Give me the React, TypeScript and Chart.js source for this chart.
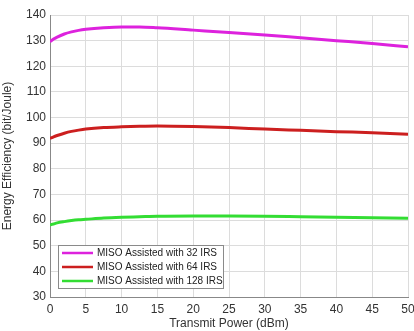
import React, { useEffect, useRef } from "react";
import { Chart, registerables } from "chart.js";

Chart.register(...registerables);

const xValues = [0, 0.5, 1, 2, 3, 4, 5, 7.5, 10, 12.5, 15, 20, 25, 30, 35, 40, 45, 50];
const miso32 = [129.6, 130.6, 131.4, 132.6, 133.4, 134.0, 134.4, 135.0, 135.3, 135.3, 135.0, 134.1, 133.2, 132.2, 131.1, 130.0, 128.9, 127.6];
const miso64 = [91.9, 92.5, 93.0, 93.9, 94.6, 95.1, 95.5, 96.1, 96.4, 96.6, 96.7, 96.5, 96.1, 95.5, 95.0, 94.5, 94.1, 93.5];
const miso128 = [58.1, 58.5, 58.9, 59.4, 59.8, 60.1, 60.3, 60.8, 61.1, 61.3, 61.5, 61.6, 61.6, 61.5, 61.3, 61.1, 60.9, 60.7];

const seriesLabels = [
  "MISO Assisted with 32 IRS",
  "MISO Assisted with 64 IRS",
  "MISO Assisted with 128 IRS",
];
const seriesColors = ["#dd22dd", "#cc1f1f", "#33dd33"];
const xTicks = [0, 5, 10, 15, 20, 25, 30, 35, 40, 45, 50];
const yTicks = [30, 40, 50, 60, 70, 80, 90, 100, 110, 120, 130, 140];

const FONT = "'Liberation Sans', Arial, sans-serif";

const insideLegend = {
  id: "insideLegend",
  afterDatasetsDraw(chart: any) {
    const ctx = chart.ctx;
    const area = chart.chartArea;
    const x0 = Math.round(area.left + 8);
    const y0 = Math.round(area.bottom - 52);
    const w = 165;
    const h = 43;
    ctx.save();
    ctx.fillStyle = "#ffffff";
    ctx.fillRect(x0, y0, w, h);
    ctx.strokeStyle = "#8a8a8a";
    ctx.lineWidth = 1;
    ctx.strokeRect(x0 + 0.5, y0 + 0.5, w, h);
    ctx.font = `10px ${FONT}`;
    ctx.textBaseline = "middle";
    chart.data.datasets.forEach((ds: any, i: number) => {
      const yy = y0 + 8 + i * 14;
      ctx.strokeStyle = ds.borderColor;
      ctx.lineWidth = 2.5;
      ctx.beginPath();
      ctx.moveTo(x0 + 4, yy);
      ctx.lineTo(x0 + 35, yy);
      ctx.stroke();
      ctx.fillStyle = "#222222";
      ctx.fillText(ds.label, x0 + 39, yy + 0.5);
    });
    ctx.restore();
  },
};

export default function App() {
  const ref = useRef<HTMLCanvasElement>(null);
  useEffect(() => {
    document.body.style.margin = "0";
    const data = [miso32, miso64, miso128];
    const chart = new Chart(ref.current!, {
      type: "line",
      data: {
        datasets: data.map((vals, i) => ({
          label: seriesLabels[i],
          data: vals.map((v, j) => ({ x: xValues[j], y: v })),
          borderColor: seriesColors[i],
          backgroundColor: seriesColors[i],
          borderWidth: 3,
          pointRadius: 0,
          cubicInterpolationMode: "monotone" as const,
          fill: false,
        })),
      },
      options: {
        animation: false,
        responsive: false,
        layout: { padding: { top: 15, right: 6, left: 0, bottom: 0 } },
        plugins: { legend: { display: false }, tooltip: { enabled: false } },
        scales: {
          x: {
            type: "linear",
            min: 0,
            max: 50,
            afterBuildTicks: (s: any) => {
              s.ticks = xTicks.map((v) => ({ value: v }));
            },
            afterFit: (s: any) => {
              s.height = 34;
              s.paddingLeft = 0;
              s.paddingRight = 0;
            },
            ticks: { color: "#333", font: { family: FONT, size: 12 }, padding: 5, maxRotation: 0 },
            grid: { color: "#dcdcdc", drawTicks: false },
            border: { color: "#888" },
            title: {
              display: true,
              text: "Transmit Power (dBm)",
              color: "#333",
              font: { family: FONT, size: 12 },
              padding: { top: 0, bottom: 0 },
            },
          },
          y: {
            min: 30,
            max: 140,
            afterBuildTicks: (s: any) => {
              s.ticks = yTicks.map((v) => ({ value: v }));
            },
            afterFit: (s: any) => {
              s.width = 50;
              s.paddingTop = 0;
              s.paddingBottom = 0;
            },
            ticks: { color: "#333", font: { family: FONT, size: 12 }, padding: 4 },
            grid: { color: "#dcdcdc", drawTicks: false },
            border: { color: "#888" },
            title: {
              display: true,
              text: "Energy Efficiency (bit/Joule)",
              color: "#333",
              font: { family: FONT, size: 12 },
              padding: { top: 0, bottom: 0 },
            },
          },
        },
      },
      plugins: [insideLegend],
    } as any);
    return () => chart.destroy();
  }, []);
  return <canvas ref={ref} width={414} height={331} style={{ display: "block" }} />;
}
